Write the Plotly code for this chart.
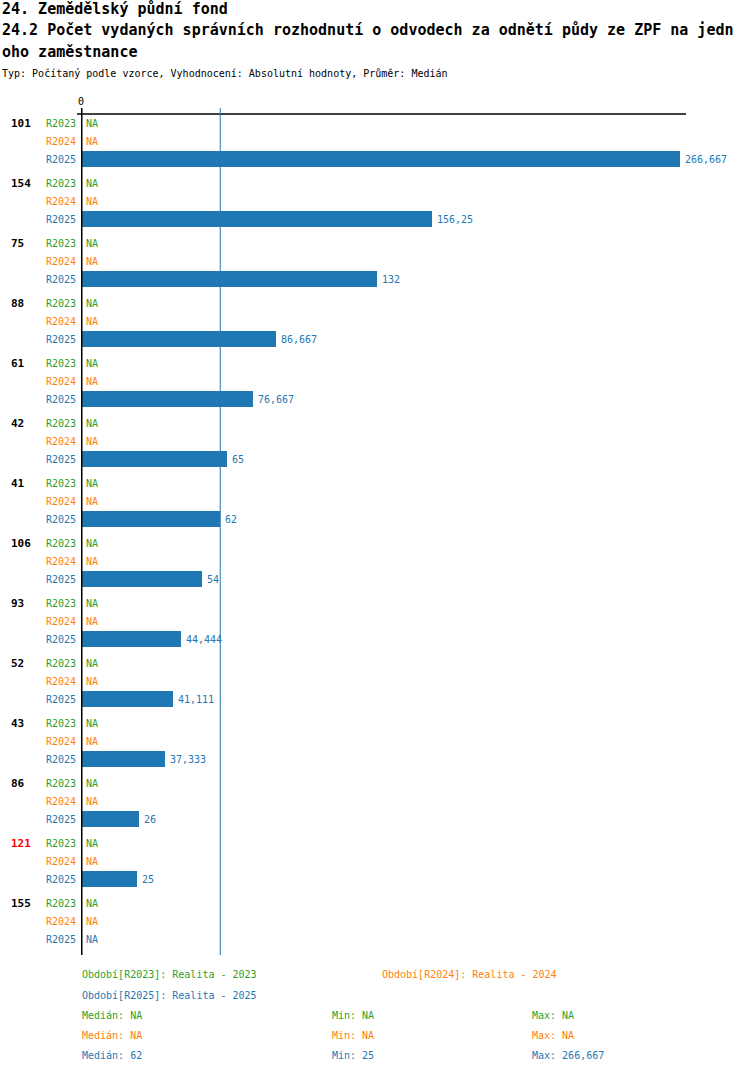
import plotly.graph_objects as go

# data
groups = ["101", "154", "75", "88", "61", "42", "41", "106", "93", "52", "43", "86", "121", "155"]
highlight = "121"
periods = ["R2023", "R2024", "R2025"]
period_names = ["Realita - 2023", "Realita - 2024", "Realita - 2025"]
r2023 = [None, None, None, None, None, None, None, None, None, None, None, None, None, None]
r2024 = [None, None, None, None, None, None, None, None, None, None, None, None, None, None]
r2025 = [266.667, 156.25, 132, 86.667, 76.667, 65, 62, 54, 44.444, 41.111, 37.333, 26, 25, None]

colors = ["#2ca02c", "#ff7f0e", "#1f77b4"]
FONT = "DejaVu Sans Mono"

# pixel frame of the plot area
W, H = 750, 1074
L, R, T, B = 81, 686, 114, 955
ROW = 18
GROUP = 60
x_max = 269.4


def px_x(px):
    return (px - L) / (R - L)


def px_y(py):
    return (B - py) / (B - T)


def fmt(v):
    if v is None:
        return "NA"
    return str(v).replace(".", ",")


def median(vals):
    v = sorted(x for x in vals if x is not None)
    if not v:
        return None
    n = len(v)
    return v[n // 2] if n % 2 else (v[n // 2 - 1] + v[n // 2]) / 2


series = [r2023, r2024, r2025]


def pos(g, r):
    return (g * GROUP + r * ROW) / ROW


fig = go.Figure()
annotations = []
small = lambda c: dict(family=FONT, size=10, color=c)

for r, vals in enumerate(series):
    ys = [pos(g, r) for g in range(len(groups))]
    bx = [v for v in vals if v is not None]
    by = [y for y, v in zip(ys, vals) if v is not None]
    fig.add_trace(go.Bar(
        x=bx, y=by, orientation="h", width=0.88,
        marker=dict(color=colors[r], line=dict(width=0)),
        hoverinfo="skip", showlegend=False,
    ))
    for y, v in zip(ys, vals):
        annotations.append(dict(
            xref="x", yref="y", x=0 if v is None else v, y=y, xanchor="left", yanchor="middle",
            xshift=3, text=fmt(v), showarrow=False, font=small(colors[r]),
        ))
        annotations.append(dict(
            xref="x", yref="y", x=0, y=y, xanchor="right", yanchor="middle",
            xshift=-3, text=periods[r], showarrow=False, font=small(colors[r]),
        ))

for g, name in enumerate(groups):
    annotations.append(dict(
        xref="paper", yref="y", x=px_x(9), y=pos(g, 0), xanchor="left", yanchor="middle",
        text=f"<b>{name}</b>", showarrow=False,
        font=dict(family=FONT, size=11, color="#ff0000" if name == highlight else "black"),
    ))

med = median(r2025)

shapes = [
    dict(type="line", xref="paper", yref="paper", x0=px_x(77), x1=1, y0=1, y1=1,
         line=dict(color="black", width=1.5)),
    dict(type="line", xref="x", yref="paper", x0=0, x1=0, y0=0, y1=px_y(108),
         line=dict(color="black", width=3)),
    dict(type="line", xref="x", yref="paper", x0=med, x1=med, y0=0, y1=px_y(108),
         line=dict(color=colors[2], width=1)),
]

annotations.append(dict(xref="x", yref="paper", x=0, y=px_y(102), text="0", showarrow=False,
                        xanchor="center", yanchor="middle", font=small("black")))

# header
header = [
    ("24. Zemědělský půdní fond", 9, 15, True),
    ("24.2 Počet vydaných správních rozhodnutí o odvodech za odnětí půdy ze ZPF na jedn", 30, 15, True),
    ("oho zaměstnance", 52, 15, True),
    ("Typ: Počítaný podle vzorce, Vyhodnocení: Absolutní hodnoty, Průměr: Medián", 73, 10, False),
]
for text, py, size, bold in header:
    annotations.append(dict(
        xref="paper", yref="paper", x=px_x(0), y=px_y(py), xanchor="left", yanchor="middle",
        text=f"<b>{text}</b>" if bold else text, showarrow=False,
        font=dict(family=FONT, size=size, color="black"),
    ))

# footer legend
legend_pos = [(80, 975), (380, 975), (80, 995)]
for (px, py), p, nm, c in zip(legend_pos, periods, period_names, colors):
    annotations.append(dict(
        xref="paper", yref="paper", x=px_x(px), y=px_y(py), xanchor="left", yanchor="middle",
        text=f"Období[{p}]: {nm}", showarrow=False, font=small(c),
    ))

for r, vals in enumerate(series):
    valid = [v for v in vals if v is not None]
    stats = [
        ("Medián", fmt(median(vals))),
        ("Min", fmt(min(valid)) if valid else "NA"),
        ("Max", fmt(max(valid)) if valid else "NA"),
    ]
    for (lab, val), px in zip(stats, [80, 330, 530]):
        annotations.append(dict(
            xref="paper", yref="paper", x=px_x(px), y=px_y(1015 + r * 20), xanchor="left", yanchor="middle",
            text=f"{lab}: {val}", showarrow=False, font=small(colors[r]),
        ))

y_top = -(ROW / 2) / ROW
y_bottom = pos(len(groups) - 1, 2) + 16 / ROW

fig.update_layout(
    width=W, height=H,
    margin=dict(l=L, r=W - R, t=T, b=H - B, pad=0),
    paper_bgcolor="white", plot_bgcolor="white",
    barmode="overlay", bargap=0,
    xaxis=dict(range=[0, x_max], showgrid=False, zeroline=False, showticklabels=False,
               showline=False, ticks=""),
    yaxis=dict(range=[y_bottom, y_top], showgrid=False, zeroline=False, showticklabels=False,
               showline=False, ticks=""),
    shapes=shapes, annotations=annotations,
    font=dict(family=FONT),
)

# drop the default page margin so the figure sits at the window origin
fig.write_html("out.html", config={"displayModeBar": False},
               post_script="document.body.style.margin='0';")
